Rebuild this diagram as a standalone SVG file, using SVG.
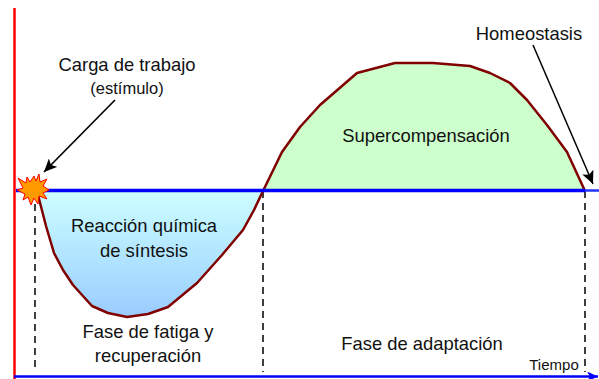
<svg xmlns="http://www.w3.org/2000/svg" width="599" height="379" viewBox="0 0 599 379">
<defs>
<linearGradient id="blue" x1="0" y1="0" x2="0" y2="1"><stop offset="0" stop-color="#ccffff"/><stop offset="1" stop-color="#99ccff"/></linearGradient>
<marker id="ah" markerUnits="userSpaceOnUse" markerWidth="14" markerHeight="12" refX="13" refY="6" orient="auto"><path d="M0,0 L13,6 L0,12 L3,6 Z" fill="#000"/></marker>
<marker id="bh" markerUnits="userSpaceOnUse" markerWidth="12" markerHeight="10" refX="11" refY="5" orient="auto"><path d="M0,0 L11,5 L0,10 L3,5 Z" fill="#0000ff"/></marker>
</defs>
<style>
text{font-family:"Liberation Sans",Arial,sans-serif;fill:#111;text-anchor:middle}
.t{font-size:18.400px}
.curve{fill:none;stroke:#800000;stroke-width:2.500;stroke-linejoin:round}
.dash{stroke:#000;stroke-width:1.500;stroke-dasharray:7 5;fill:none}
</style>
<g id="region-fatiga"><path d="M37,191 L46,226 L54,253 L63,270 L73,285 L92,306 L108,313 L127,317 L148,314 L168,307 L197,283 L222,255 L243,230 L254,210 L263,191 Z" fill="url(#blue)"/></g>
<g id="region-super"><path d="M263,191 L282,152 L300,127 L320,105 L357,73 L395,63 L433,63 L470,66 L490,73 L510,83 L527,100 L547,125 L567,152 L585,191 Z" fill="#ccffcc"/></g>
<g id="connectors">
<path class="dash" d="M35,204 V372"/>
<path class="dash" d="M263,191 V372"/>
<path class="dash" d="M585,191 V372"/>
<path class="curve" d="M37,191 L46,226 L54,253 L63,270 L73,285 L92,306 L108,313 L127,317 L148,314 L168,307 L197,283 L222,255 L243,230 L254,210 L263,191 L282,152 L300,127 L320,105 L357,73 L395,63 L433,63 L470,66 L490,73 L510,83 L527,100 L547,125 L567,152 L585,191"/>
<path d="M16,190.500 H585" stroke="#0000ff" stroke-width="3.500" fill="none"/>
<path d="M585,190.500 H599" stroke="#2233ff" stroke-width="2.500" fill="none"/>
<path d="M14.500,8 V379" stroke="#ff0000" stroke-width="2.500" fill="none"/>
<path d="M14,376.500 H598" stroke="#0000ff" stroke-width="2.500" fill="none" marker-end="url(#bh)"/>
<path d="M115,100 L44,172" stroke="#000" stroke-width="1.700" fill="none" marker-end="url(#ah)"/>
<path d="M533,45 L593,184" stroke="#000" stroke-width="1.500" fill="none" marker-end="url(#ah)"/>
</g>
<g id="burst"><path d="M39,174 L40,182 L47,179 L43,186 L49,190 L43,193 L47,199 L39,196 L38,204 L34,198 L31,205 L28,197 L23,200 L25,194 L17,190 L23,188 L18,178 L26,183 L27,177 L30,182 L34,176 L36,181 Z" fill="#ff9900" stroke="#ff0000" stroke-width="1"/></g>
<g id="label-carga"><text class="t" x="127" y="70.500">Carga de trabajo</text><text x="127" y="93.500" font-size="16.500">(estímulo)</text></g>
<g id="label-homeostasis"><text class="t" x="529" y="40">Homeostasis</text></g>
<g id="label-super"><text class="t" x="426" y="142">Supercompensación</text></g>
<g id="label-reaccion"><text class="t" x="144" y="232">Reacción química</text><text class="t" x="144" y="257">de síntesis</text></g>
<g id="label-fatiga"><text class="t" x="148" y="338">Fase de fatiga y</text><text class="t" x="148" y="362">recuperación</text></g>
<g id="label-adaptacion"><text class="t" x="422" y="350">Fase de adaptación</text></g>
<g id="label-tiempo"><text x="554" y="370" font-size="15">Tiempo</text></g>
</svg>
